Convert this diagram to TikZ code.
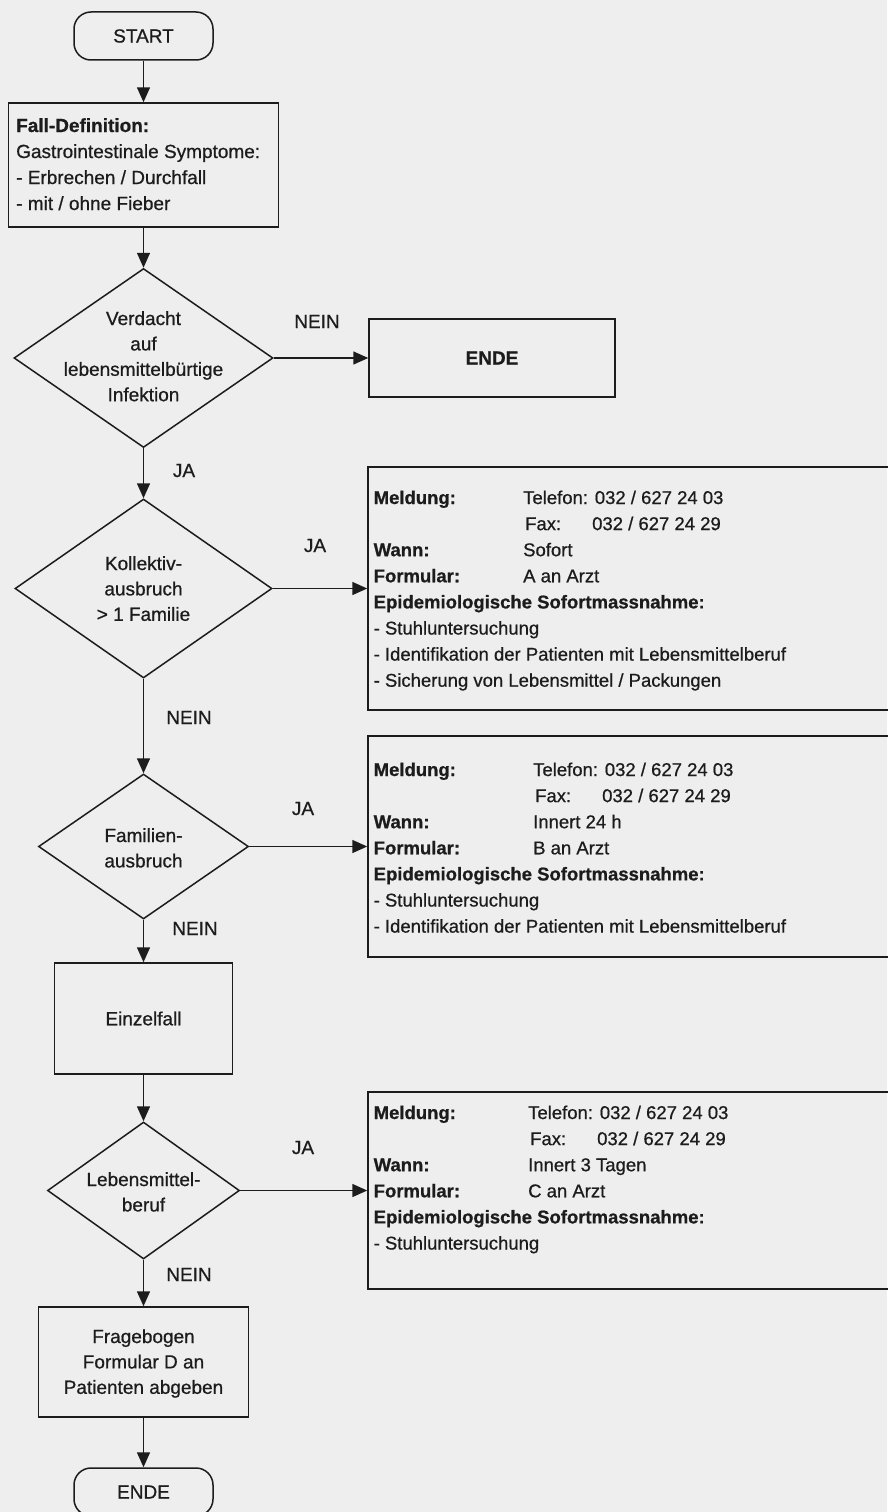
\documentclass[tikz,border=0pt]{standalone}
\usepackage{fontspec}
\setmainfont{Liberation Sans}[FakeBold=0.7]
\usetikzlibrary{shapes.geometric,arrows.meta}
\definecolor{ink}{RGB}{28,28,28}
\definecolor{bgpaper}{RGB}{238,238,238}
\newcommand\lfont{\fontsize{19}{25.4}\selectfont}
\newcommand\rfont{\fontsize{18.5}{26.1}\selectfont}
\newcommand\faxlabel{\hspace*{2pt}\makebox[67pt][l]{Fax:}}
\begin{document}
\begin{tikzpicture}[x=1pt,y=-1pt,
  ln/.style={draw=ink, line width=1.5pt},
  box/.style={ln, rectangle, inner sep=0pt, text=ink, font=\lfont},
  dia/.style={ln, diamond, inner sep=0pt},
  term/.style={ln, rectangle, rounded corners=17pt, inner sep=0pt, text=ink, font=\lfont},
  arr/.style={ln, -{Triangle[length=15pt,width=13pt]}},
  ct/.style={anchor=base, inner sep=0pt, text=ink, font=\lfont},
  lt/.style={anchor=base west, inner sep=0pt, text=ink, font=\fontsize{19}{26}\selectfont},
  rt/.style={anchor=base west, inner sep=0pt, text=ink, font=\rfont},
  lab/.style={anchor=base, inner sep=0pt, text=ink, font=\lfont}
]
\useasboundingbox (0,0) rectangle (887,1512);
\fill[bgpaper] (0,0) rectangle (887,1512);

% left column
\node[term, minimum width=139pt, minimum height=48pt] (start) at (143.5,36) {START};
\node[box, minimum width=270pt, minimum height=124pt] (fall) at (143.5,165) {};
\node[lt] (falltext) at (16,132) {\begin{tabular}[t]{@{}l@{}}\textbf{Fall-Definition:}\\Gastrointestinale Symptome:\\- Erbrechen / Durchfall\\- mit / ohne Fieber\end{tabular}};

\node[dia, minimum width=259pt, minimum height=179pt] (d1) at (143.5,358) {};
\node[ct] (d1t) at (143.5,325) {\begin{tabular}[t]{@{}c@{}}Verdacht\\auf\\lebensmittelbürtige\\Infektion\end{tabular}};
\node[box, minimum width=246pt, minimum height=78pt, font=\lfont\bfseries] (ende1) at (492,358) {ENDE};

\node[dia, minimum width=257pt, minimum height=179pt] (d2) at (143.5,588.5) {};
\node[ct] (d2t) at (143.5,570) {\begin{tabular}[t]{@{}c@{}}Kollektiv-\\ausbruch\\> 1 Familie\end{tabular}};

\node[dia, minimum width=210pt, minimum height=145pt] (d3) at (143.5,846.5) {};
\node[ct] (d3t) at (143.5,842) {\begin{tabular}[t]{@{}c@{}}Familien-\\ausbruch\end{tabular}};

\node[box, minimum width=178pt, minimum height=111pt] (einzel) at (143.5,1018.5) {Einzelfall};

\node[dia, minimum width=192pt, minimum height=137pt] (d4) at (143.5,1190.5) {};
\node[ct] (d4t) at (143.5,1186) {\begin{tabular}[t]{@{}c@{}}Lebensmittel-\\beruf\end{tabular}};

\node[box, minimum width=210pt, minimum height=110pt] (frage) at (143.5,1362) {};
\node[ct] (fraget) at (143.5,1343) {\begin{tabular}[t]{@{}c@{}}Fragebogen\\Formular D an\\Patienten abgeben\end{tabular}};

\node[term, minimum width=139pt, minimum height=48pt] (ende2) at (143.5,1492) {ENDE};

% right boxes
\node[box, minimum width=560pt, minimum height=243pt] (boxA) at (648,588.5) {};
\node[rt] (boxAt) at (373.5,504) {\begin{tabular}[t]{@{}p{149.5pt}@{}l@{}}
\textbf{Meldung:} & Telefon: 032 / 627 24 03\\
 & \faxlabel 032 / 627 24 29\\
\textbf{Wann:} & Sofort\\
\textbf{Formular:} & A an Arzt\\
\multicolumn{2}{@{}l@{}}{\textbf{Epidemiologische Sofortmassnahme:}}\\
\multicolumn{2}{@{}l@{}}{- Stuhluntersuchung}\\
\multicolumn{2}{@{}l@{}}{- Identifikation der Patienten mit Lebensmittelberuf}\\
\multicolumn{2}{@{}l@{}}{- Sicherung von Lebensmittel / Packungen}
\end{tabular}};

\node[box, minimum width=560pt, minimum height=221pt] (boxB) at (648,846.5) {};
\node[rt] (boxBt) at (373.5,776) {\begin{tabular}[t]{@{}p{159.5pt}@{}l@{}}
\textbf{Meldung:} & Telefon: 032 / 627 24 03\\
 & \faxlabel 032 / 627 24 29\\
\textbf{Wann:} & Innert 24 h\\
\textbf{Formular:} & B an Arzt\\
\multicolumn{2}{@{}l@{}}{\textbf{Epidemiologische Sofortmassnahme:}}\\
\multicolumn{2}{@{}l@{}}{- Stuhluntersuchung}\\
\multicolumn{2}{@{}l@{}}{- Identifikation der Patienten mit Lebensmittelberuf}
\end{tabular}};

\node[box, minimum width=560pt, minimum height=197pt] (boxC) at (648,1190.5) {};
\node[rt] (boxCt) at (373.5,1119) {\begin{tabular}[t]{@{}p{154.5pt}@{}l@{}}
\textbf{Meldung:} & Telefon: 032 / 627 24 03\\
 & \faxlabel 032 / 627 24 29\\
\textbf{Wann:} & Innert 3 Tagen\\
\textbf{Formular:} & C an Arzt\\
\multicolumn{2}{@{}l@{}}{\textbf{Epidemiologische Sofortmassnahme:}}\\
\multicolumn{2}{@{}l@{}}{- Stuhluntersuchung}
\end{tabular}};

% connectors
\draw[arr] (start.south) -- (fall.north);
\draw[arr] (fall.south) -- (d1.north);
\draw[arr] (d1.east) -- (ende1.west);
\draw[arr] (d1.south) -- (d2.north);
\draw[arr] (d2.east) -- (boxA.west);
\draw[arr] (d2.south) -- (d3.north);
\draw[arr] (d3.east) -- (boxB.west);
\draw[arr] (d3.south) -- (einzel.north);
\draw[arr] (einzel.south) -- (d4.north);
\draw[arr] (d4.east) -- (boxC.west);
\draw[arr] (d4.south) -- (frage.north);
\draw[arr] (frage.south) -- (ende2.north);

% labels
\node[lab] (nein1) at (317,328) {NEIN};
\node[lab] (ja1) at (184,477) {JA};
\node[lab] (ja2) at (315,552) {JA};
\node[lab] (nein2) at (189,724) {NEIN};
\node[lab] (ja3) at (303,815) {JA};
\node[lab] (nein3) at (195,935) {NEIN};
\node[lab] (ja4) at (303,1154) {JA};
\node[lab] (nein4) at (189,1281) {NEIN};
\end{tikzpicture}
\end{document}
